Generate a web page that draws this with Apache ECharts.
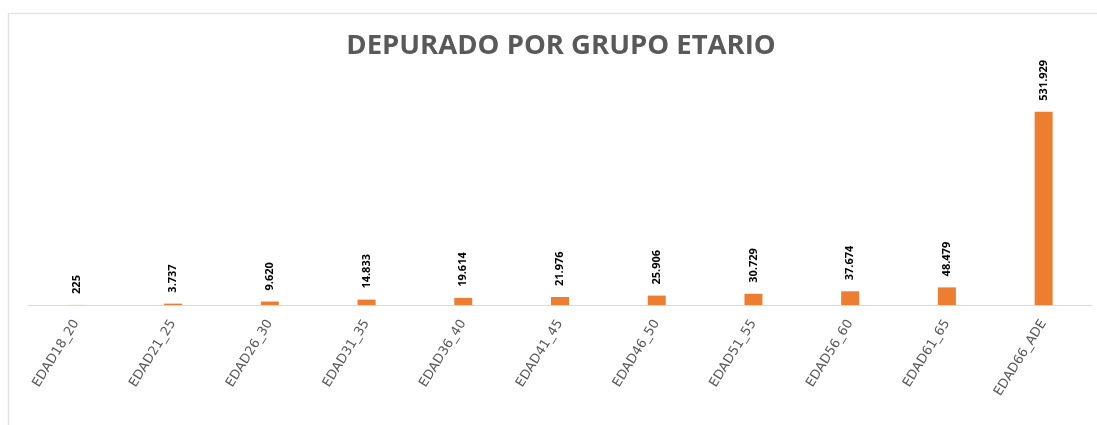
<!DOCTYPE html>
<html>
<head>
<meta charset="utf-8">
<script src="https://cdn.jsdelivr.net/npm/echarts@6/dist/echarts.min.js"></script>
<style>
  html, body { margin: 0; padding: 0; background: #fff; }
  #chart { width: 1097px; height: 425px; }
</style>
</head>
<body>
<div id="chart"></div>
<script>
// grupos de edad
const categories = [
  "EDAD18_20", "EDAD21_25", "EDAD26_30", "EDAD31_35", "EDAD36_40", "EDAD41_45",
  "EDAD46_50", "EDAD51_55", "EDAD56_60", "EDAD61_65", "EDAD66_ADE"
];
// depurado por grupo
const depurado = [225, 3737, 9620, 14833, 19614, 21976, 25906, 30729, 37674, 48479, 531929];

// separador de miles con punto
const fmt = (v) => String(v).replace(/\B(?=(\d{3})+(?!\d))/g, ".");

const chart = echarts.init(document.getElementById("chart"));
chart.setOption({
  backgroundColor: "#fff",
  animation: false,
  title: {
    text: "DEPURADO POR GRUPO ETARIO",
    left: 556,
    top: 27,
    textAlign: "center",
    textStyle: {
      fontFamily: "Open Sans",
      fontWeight: "bold",
      fontSize: 27.5,
      color: "#595959"
    }
  },
  // marco del grafico (recortado a la derecha y abajo)
  graphic: [
    {
      type: "rect",
      shape: { x: 8.5, y: 13.5, width: 1200, height: 600 },
      style: { fill: "none", stroke: "#e3e3e3", lineWidth: 1.5 },
      silent: true
    }
  ],
  grid: { left: 28, right: 5, top: 87, bottom: 120 },
  xAxis: {
    type: "category",
    data: categories,
    axisLine: { lineStyle: { color: "#d9d9d9", width: 1 } },
    axisTick: { show: false },
    axisLabel: {
      rotate: 58,
      margin: 16,
      interval: 0,
      color: "#595959",
      fontFamily: "DejaVu Sans",
      fontSize: 13
    }
  },
  yAxis: {
    type: "value",
    min: 0,
    max: 600000,
    show: false,
    splitLine: { show: false }
  },
  series: [
    {
      type: "bar",
      data: depurado,
      barWidth: 18,
      itemStyle: { color: "#ed7d31" },
      label: {
        show: true,
        position: "top",
        rotate: 90,
        align: "left",
        verticalAlign: "middle",
        distance: 11,
        formatter: (p) => fmt(p.value),
        fontFamily: "Open Sans",
        fontWeight: "bold",
        fontSize: 11,
        color: "#000"
      }
    }
  ]
});
</script>
</body>
</html>
